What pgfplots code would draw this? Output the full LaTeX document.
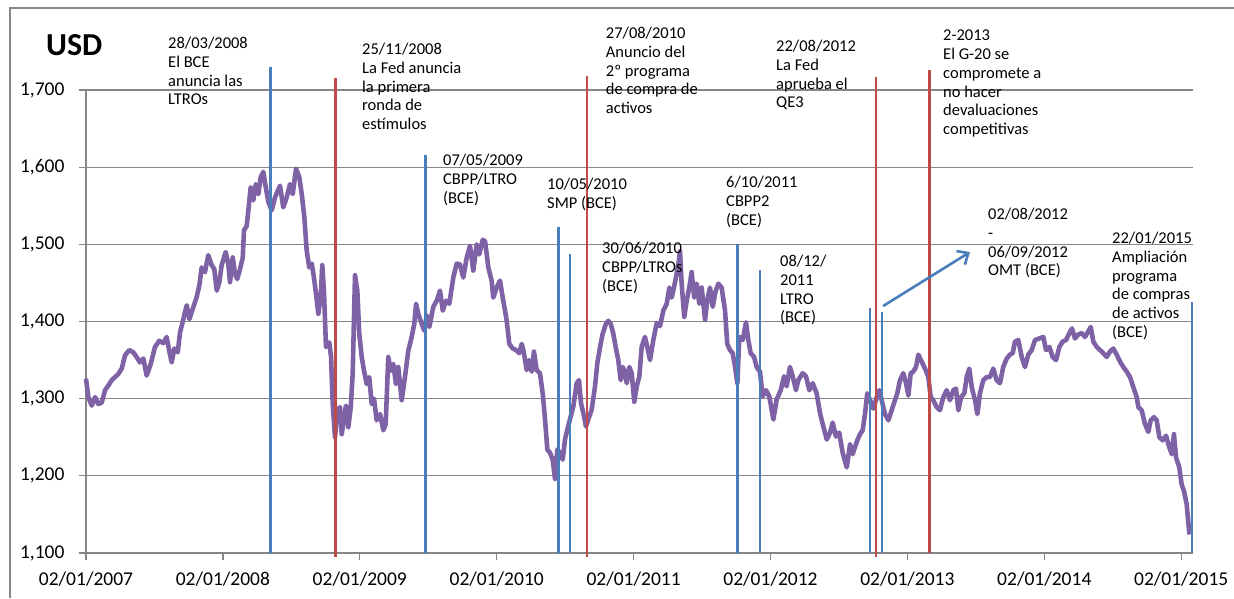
\documentclass[border=0pt]{standalone}
\usepackage{pgfplots}
\pgfplotsset{compat=1.18}
\usepackage{pgfplotstable}
\usetikzlibrary{arrows.meta}
\usepackage{fontspec}
\setmainfont{Carlito}
\definecolor{eurusd}{HTML}{7F62A6}
\definecolor{evblue}{HTML}{4A7EBB}
\definecolor{evred}{HTML}{BE4B48}
\definecolor{gridgray}{HTML}{868686}

\pgfplotstableread{
t v
2007.000 1.326
2007.017 1.302
2007.042 1.291
2007.066 1.302
2007.090 1.293
2007.115 1.295
2007.139 1.311
2007.163 1.317
2007.188 1.324
2007.212 1.328
2007.236 1.332
2007.261 1.339
2007.285 1.356
2007.316 1.363
2007.346 1.360
2007.370 1.354
2007.394 1.347
2007.419 1.352
2007.443 1.330
2007.473 1.345
2007.504 1.367
2007.535 1.375
2007.565 1.372
2007.589 1.380
2007.608 1.362
2007.626 1.347
2007.645 1.365
2007.670 1.360
2007.687 1.386
2007.711 1.403
2007.736 1.421
2007.755 1.403
2007.779 1.416
2007.809 1.432
2007.828 1.447
2007.845 1.470
2007.869 1.464
2007.893 1.486
2007.918 1.473
2007.937 1.468
2007.955 1.440
2007.974 1.451
2007.991 1.473
2008.020 1.490
2008.039 1.475
2008.052 1.451
2008.072 1.483
2008.088 1.462
2008.105 1.455
2008.125 1.468
2008.145 1.483
2008.154 1.518
2008.174 1.524
2008.186 1.544
2008.203 1.574
2008.222 1.557
2008.240 1.578
2008.259 1.565
2008.276 1.587
2008.295 1.594
2008.313 1.574
2008.332 1.555
2008.356 1.544
2008.381 1.561
2008.417 1.576
2008.441 1.548
2008.466 1.561
2008.490 1.578
2008.510 1.565
2008.534 1.598
2008.558 1.587
2008.576 1.565
2008.595 1.535
2008.612 1.492
2008.631 1.470
2008.649 1.475
2008.665 1.457
2008.680 1.436
2008.697 1.410
2008.714 1.432
2008.726 1.473
2008.738 1.440
2008.753 1.367
2008.777 1.373
2008.790 1.354
2008.802 1.293
2008.819 1.250
2008.836 1.285
2008.855 1.289
2008.868 1.254
2008.885 1.276
2008.899 1.291
2008.916 1.263
2008.934 1.289
2008.948 1.332
2008.965 1.460
2008.982 1.440
2008.996 1.384
2009.014 1.354
2009.031 1.336
2009.050 1.319
2009.069 1.328
2009.087 1.293
2009.104 1.300
2009.123 1.272
2009.148 1.280
2009.172 1.259
2009.189 1.267
2009.208 1.354
2009.226 1.336
2009.245 1.345
2009.264 1.319
2009.281 1.341
2009.306 1.298
2009.330 1.328
2009.354 1.362
2009.379 1.380
2009.398 1.397
2009.411 1.423
2009.427 1.410
2009.452 1.397
2009.471 1.388
2009.489 1.408
2009.508 1.393
2009.537 1.419
2009.562 1.427
2009.586 1.440
2009.606 1.414
2009.630 1.427
2009.654 1.423
2009.683 1.457
2009.708 1.475
2009.732 1.474
2009.756 1.457
2009.781 1.483
2009.805 1.498
2009.829 1.466
2009.854 1.500
2009.873 1.487
2009.898 1.506
2009.915 1.504
2009.939 1.470
2009.963 1.453
2009.975 1.431
2010.000 1.444
2010.024 1.453
2010.044 1.431
2010.061 1.414
2010.073 1.401
2010.092 1.371
2010.117 1.365
2010.141 1.363
2010.165 1.359
2010.183 1.371
2010.199 1.359
2010.219 1.337
2010.236 1.350
2010.256 1.335
2010.272 1.361
2010.292 1.337
2010.316 1.333
2010.336 1.307
2010.353 1.273
2010.370 1.234
2010.389 1.230
2010.409 1.221
2010.426 1.196
2010.443 1.234
2010.462 1.230
2010.482 1.221
2010.499 1.247
2010.516 1.260
2010.535 1.273
2010.560 1.290
2010.584 1.320
2010.601 1.324
2010.616 1.294
2010.638 1.277
2010.652 1.264
2010.669 1.273
2010.694 1.286
2010.718 1.316
2010.735 1.346
2010.755 1.367
2010.774 1.384
2010.798 1.397
2010.815 1.401
2010.833 1.397
2010.852 1.384
2010.869 1.367
2010.888 1.350
2010.906 1.324
2010.920 1.341
2010.937 1.335
2010.950 1.320
2010.969 1.341
2010.986 1.333
2011.005 1.296
2011.023 1.316
2011.042 1.329
2011.059 1.367
2011.083 1.380
2011.100 1.367
2011.120 1.350
2011.144 1.376
2011.169 1.398
2011.193 1.394
2011.217 1.414
2011.242 1.423
2011.261 1.444
2011.278 1.431
2011.303 1.451
2011.327 1.474
2011.339 1.491
2011.351 1.449
2011.370 1.406
2011.388 1.427
2011.407 1.444
2011.424 1.464
2011.443 1.431
2011.461 1.449
2011.480 1.423
2011.497 1.444
2011.522 1.402
2011.538 1.427
2011.558 1.444
2011.578 1.419
2011.597 1.438
2011.619 1.449
2011.643 1.444
2011.668 1.414
2011.684 1.371
2011.704 1.363
2011.724 1.359
2011.741 1.341
2011.758 1.320
2011.772 1.380
2011.797 1.376
2011.821 1.399
2011.838 1.376
2011.855 1.359
2011.880 1.354
2011.899 1.341
2011.923 1.335
2011.943 1.303
2011.967 1.311
2011.991 1.303
2012.021 1.273
2012.045 1.299
2012.075 1.311
2012.099 1.329
2012.118 1.316
2012.142 1.341
2012.162 1.329
2012.186 1.311
2012.203 1.324
2012.235 1.333
2012.259 1.329
2012.284 1.311
2012.308 1.320
2012.337 1.307
2012.362 1.281
2012.386 1.264
2012.411 1.247
2012.435 1.256
2012.454 1.269
2012.478 1.251
2012.502 1.256
2012.527 1.230
2012.557 1.211
2012.581 1.241
2012.600 1.228
2012.617 1.237
2012.634 1.246
2012.654 1.254
2012.673 1.259
2012.690 1.280
2012.707 1.307
2012.727 1.298
2012.751 1.287
2012.776 1.302
2012.795 1.311
2012.812 1.298
2012.836 1.280
2012.861 1.272
2012.885 1.285
2012.909 1.298
2012.926 1.307
2012.946 1.324
2012.970 1.333
2012.990 1.320
2013.007 1.304
2013.024 1.333
2013.043 1.335
2013.063 1.341
2013.080 1.357
2013.104 1.348
2013.129 1.339
2013.153 1.328
2013.170 1.302
2013.189 1.298
2013.214 1.289
2013.238 1.285
2013.262 1.302
2013.287 1.311
2013.311 1.298
2013.335 1.311
2013.355 1.313
2013.372 1.285
2013.392 1.302
2013.416 1.307
2013.433 1.328
2013.452 1.339
2013.470 1.315
2013.494 1.298
2013.511 1.280
2013.530 1.307
2013.554 1.324
2013.579 1.328
2013.603 1.328
2013.627 1.339
2013.652 1.324
2013.676 1.320
2013.700 1.341
2013.725 1.352
2013.749 1.357
2013.769 1.359
2013.786 1.374
2013.810 1.376
2013.835 1.354
2013.859 1.341
2013.883 1.357
2013.908 1.363
2013.932 1.376
2013.963 1.378
2013.993 1.380
2014.012 1.363
2014.037 1.367
2014.061 1.354
2014.086 1.350
2014.110 1.367
2014.134 1.374
2014.159 1.376
2014.183 1.385
2014.202 1.391
2014.224 1.378
2014.248 1.383
2014.273 1.385
2014.297 1.380
2014.321 1.387
2014.339 1.393
2014.358 1.374
2014.383 1.367
2014.407 1.363
2014.431 1.359
2014.456 1.354
2014.480 1.361
2014.504 1.365
2014.529 1.357
2014.553 1.348
2014.577 1.341
2014.602 1.335
2014.626 1.328
2014.650 1.315
2014.675 1.302
2014.687 1.289
2014.711 1.285
2014.736 1.267
2014.760 1.257
2014.777 1.272
2014.801 1.276
2014.821 1.272
2014.840 1.250
2014.865 1.246
2014.889 1.252
2014.913 1.237
2014.931 1.228
2014.947 1.254
2014.962 1.224
2014.986 1.211
2015.003 1.189
2015.021 1.180
2015.040 1.163
2015.060 1.124
}\eurusdtable

\begin{document}
\begin{tikzpicture}
\begin{axis}[
  at={(0pt,0pt)}, anchor=south west,
  scale only axis,
  width=1107pt, height=463pt,
  xmin=2007, xmax=2015.086,
  ymin=1.1, ymax=1.7,
  clip=false,
  axis x line*=bottom, axis y line*=left,
  axis line style={gridgray, line width=1.3pt, -},
  xtick={2007,2008,2009,2010,2011,2012,2013,2014,2015},
  xticklabels={02/01/2007,02/01/2008,02/01/2009,02/01/2010,02/01/2011,02/01/2012,02/01/2013,02/01/2014,02/01/2015},
  ytick={1.1,1.2,1.3,1.4,1.5,1.6,1.7},
  yticklabels={{1,100},{1,200},{1,300},{1,400},{1,500},{1,600},{1,700}},
  tick align=outside,
  major tick length=7pt,
  tick style={gridgray, line width=1.3pt},
  ymajorgrids,
  grid style={gridgray, line width=1.2pt},
  ticklabel style={font=\fontsize{19.5}{20}\selectfont, text=black},
  xticklabel style={yshift=-8pt},
  yticklabel style={xshift=-11pt},
]
\addplot[eurusd, line width=4.6pt, line join=round] table[x=t, y=v] {\eurusdtable};
% event lines
\addplot[evblue, line width=2.8pt] coordinates {(2008.349,1.1) (2008.349,1.730)};
\addplot[evred,  line width=2.8pt] coordinates {(2008.821,1.095) (2008.821,1.715)};
\addplot[evblue, line width=2.8pt] coordinates {(2009.480,1.1) (2009.480,1.616)};
\addplot[evblue, line width=2.8pt] coordinates {(2010.453,1.1) (2010.453,1.522)};
\addplot[evblue, line width=2.8pt] coordinates {(2010.535,1.1) (2010.535,1.488)};
\addplot[evred,  line width=2.8pt] coordinates {(2010.660,1.095) (2010.660,1.718)};
\addplot[evblue, line width=2.8pt] coordinates {(2011.757,1.1) (2011.757,1.500)};
\addplot[evblue, line width=2.8pt] coordinates {(2011.923,1.1) (2011.923,1.467)};
\addplot[evblue, line width=2.8pt] coordinates {(2012.727,1.1) (2012.727,1.417)};
\addplot[evred,  line width=2.8pt] coordinates {(2012.771,1.095) (2012.771,1.717)};
\addplot[evblue, line width=2.8pt] coordinates {(2012.815,1.1) (2012.815,1.412)};
\addplot[evred,  line width=2.8pt] coordinates {(2013.160,1.100) (2013.160,1.726)};
\addplot[evblue, line width=2.8pt] coordinates {(2015.079,1.1) (2015.079,1.425)};
\draw[evblue, line width=2.6pt, -{Straight Barb[length=9pt,width=16pt]}] (axis cs:2012.822,1.420) -- (axis cs:2013.457,1.490);
\end{axis}
% chart frame (left and top)
\draw[gridgray, line width=1.5pt] (-76pt,-45pt) -- (-76pt,545pt) -- (1148pt,545pt);
% title
\node[anchor=west, inner sep=0pt, font=\fontsize{32}{34}\selectfont\bfseries] at (-40pt,508pt) {USD};
% annotations
\tikzset{ann/.style={anchor=north west, inner sep=0pt, align=left, font=\fontsize{16.5}{18.7}\selectfont}}
\node[ann] at (82pt,516pt) {28/03/2008\\El BCE\\anuncia las\\LTROs};
\node[ann] at (276pt,510pt) {25/11/2008\\La Fed anuncia\\la primera\\ronda de\\estímulos};
\node[ann] at (519.7pt,526pt) {27/08/2010\\Anuncio del\\2º programa\\de compra de\\activos};
\node[ann] at (690pt,513pt) {22/08/2012\\La Fed\\aprueba el\\QE3};
\node[ann] at (857pt,523pt) {2-2013\\El G-20 se\\compromete a\\no hacer\\devaluaciones\\competitivas};
\node[ann] at (357pt,399pt) {07/05/2009\\CBPP/LTRO\\(BCE)};
\node[ann] at (461pt,375pt) {10/05/2010\\SMP (BCE)};
\node[ann] at (640pt,377pt) {6/10/2011\\CBPP2\\(BCE)};
\node[ann] at (516pt,311pt) {30/06/2010\\CBPP/LTROs\\(BCE)};
\node[ann] at (694pt,298pt) {08/12/\\2011\\LTRO\\(BCE)};
\node[ann] at (902pt,345pt) {02/08/2012\\-\\06/09/2012\\OMT (BCE)};
\node[ann] at (1026pt,321pt) {22/01/2015\\Ampliación\\programa\\de compras\\de activos\\(BCE)};
\pgfresetboundingbox
\useasboundingbox (-86pt,-45pt) rectangle (1148pt,553pt);
\end{tikzpicture}
\end{document}
